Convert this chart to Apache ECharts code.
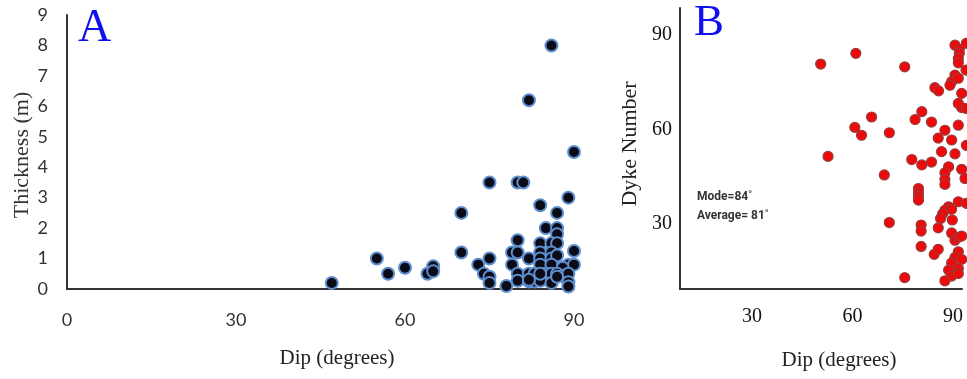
<!DOCTYPE html>
<html>
<head>
<meta charset="utf-8">
<script src="https://cdn.jsdelivr.net/npm/echarts@6/dist/echarts.min.js"></script>
<style>
  html, body { margin: 0; padding: 0; background: #fff; }
  #app { width: 967px; height: 379px; }
</style>
</head>
<body>
<div id="app"></div>
<script>
// panel A: dip (degrees) vs thickness (m)
const thicknessPoints = [
    [47, 0.2], [55, 1.0], [57, 0.5], [60, 0.7], [64, 0.5], [65, 0.75], [65, 0.58],
    [70, 2.5], [70, 1.2], [73, 0.8], [74, 0.5], [75, 3.5], [75, 1.0], [75, 0.4], [75, 0.2],
    [78, 0.1], [79, 1.2], [79, 0.8], [80, 3.5], [81, 3.5], [80, 1.6], [80, 1.2], [80, 0.5],
    [80, 0.27], [82, 6.2], [86, 8.0], [90, 4.5], [89, 3.0], [84, 2.75], [87, 2.5], [85, 2.0],
    [87, 2.0], [87, 1.8], [84, 1.5], [86, 1.5], [87, 1.5], [84, 1.2], [86, 1.2], [90, 1.25],
    [82, 1.0], [84, 1.0], [86, 1.0], [87, 1.1], [84, 0.8], [86, 0.8], [89, 0.8], [90, 0.8],
    [88, 0.7], [82, 0.5], [83, 0.5], [85, 0.5], [86, 0.5], [87, 0.5], [88, 0.43], [89, 0.5],
    [82, 0.25], [83, 0.25], [84, 0.27], [86, 0.2], [89, 0.22], [89, 0.08], [84, 0.5],
    [87, 0.4], [82, 0.3]
];

// panel B: dip (degrees) vs dyke number
const dykePoints = [
    [50.5, 80.8], [61, 84.2], [75.6, 79.9], [65.7, 64], [60.7, 60.7], [62.7, 58.2], [71, 59],
    [52.7, 51.5], [69.5, 45.6], [71, 30.5], [75.6, 13], [77.7, 50.5], [80.7, 65.7], [78.7, 63.2],
    [83.6, 62.4], [84.6, 73.3], [85.7, 72.3], [80.7, 48.8], [83.6, 49.7], [79.7, 41.3],
    [79.7, 40], [79.7, 38.8], [79.7, 37.6], [80.5, 29.7], [80.5, 27.8], [80.5, 22.9],
    [84.4, 20.4], [85.6, 22], [85.6, 28.8], [87.6, 59.8], [85.6, 57.3], [86.6, 53], [88.7, 48.2],
    [87.6, 46.3], [87.6, 44.2], [87.6, 42.6], [88.7, 35.5], [87.6, 34.4], [86.9, 33.2],
    [86.3, 31.8], [89.6, 34.7], [89.8, 31.3], [89.6, 27.2], [90.6, 24.9], [91.6, 25.8],
    [92.6, 26.2], [91.6, 21.2], [90.6, 19.4], [89.6, 17.7], [92.6, 18.8], [91.6, 15.9],
    [88.7, 15.4], [89.6, 13.5], [87.6, 12], [91.6, 14.3], [91.6, 37.1], [94, 36.6],
    [92.6, 47.4], [93.6, 44.5], [90.6, 52.3], [94, 55], [89.6, 56.7], [91.6, 61.4],
    [92.6, 67], [91.6, 68.3], [94, 66.7], [92.6, 71.5], [90.6, 77.3], [89.6, 75.2],
    [89.1, 74.1], [91.6, 76.3], [93.9, 78.9], [90.6, 86.8], [91.9, 85.5], [91.9, 84.2],
    [91.6, 82.6], [91.6, 81.2], [94, 87.4]
];

const dipTicksB = [30, 60, 90];
const dykeTicksB = [30, 60, 90];
const statsText = ['Mode=84˚', 'Average= 81˚'];

const serif = '"Liberation Serif", "Times New Roman", serif';
const axisLine = { show: true, lineStyle: { color: '#333', width: 2 } };

const myChart = echarts.init(document.getElementById('app'));

const option = {
    animation: false,
    grid: [
        { left: 67, right: 393, top: 15, bottom: 90 },
        { left: 680, right: 5, top: 8, bottom: 90 }
    ],
    xAxis: [{
        gridIndex: 0, type: 'value', min: 0, max: 90, interval: 30,
        axisLine: axisLine, axisTick: { show: false }, splitLine: { show: false },
        axisLabel: { margin: 22, fontSize: 18, fontFamily: 'Lato', color: '#333' }
    }, {
        gridIndex: 1, type: 'value', min: 8.5, max: 92.7,
        axisLine: axisLine, axisTick: { show: false }, splitLine: { show: false },
        axisLabel: { customValues: dipTicksB, margin: 18, fontSize: 20, fontFamily: serif, color: '#111' }
    }],
    yAxis: [{
        gridIndex: 0, type: 'value', min: 0, max: 9, interval: 1,
        axisLine: axisLine, axisTick: { show: false }, splitLine: { show: false },
        axisLabel: { margin: 19, fontSize: 18, fontFamily: 'Lato', color: '#333' }
    }, {
        gridIndex: 1, type: 'value', min: 9.4, max: 98.6,
        axisLine: axisLine, axisTick: { show: false }, splitLine: { show: false },
        axisLabel: { customValues: dykeTicksB, margin: 8, fontSize: 20, fontFamily: serif, color: '#111' }
    }],
    series: [{
        type: 'scatter',
        xAxisIndex: 0, yAxisIndex: 0,
        data: thicknessPoints,
        symbolSize: 12,
        clip: false,
        itemStyle: { color: '#0b0b18', borderColor: '#5d8fcf', borderWidth: 2, opacity: 1 }
    }, {
        type: 'scatter',
        xAxisIndex: 1, yAxisIndex: 1,
        data: dykePoints,
        symbolSize: 10,
        clip: false,
        itemStyle: { color: '#ee0a0a', borderColor: '#9a3b3b', borderWidth: 1.2, opacity: 1 }
    }],
    graphic: [
        { type: 'text', left: 78, top: 6, style: { text: 'A', font: '46px ' + serif, fill: '#1010ee' } },
        { type: 'text', left: 694, top: 1, style: { text: 'B', font: '45px ' + serif, fill: '#1010ee' } },
        { type: 'text', x: 337, y: 358, style: { text: 'Dip (degrees)', font: '21px ' + serif, fill: '#222', align: 'center', verticalAlign: 'middle' } },
        { type: 'text', x: 839, y: 360, style: { text: 'Dip (degrees)', font: '21px ' + serif, fill: '#222', align: 'center', verticalAlign: 'middle' } },
        { type: 'text', x: 22, y: 155, rotation: Math.PI / 2, style: { text: 'Thickness (m)', font: '22px ' + serif, fill: '#333', align: 'center', verticalAlign: 'middle' } },
        { type: 'text', x: 630, y: 144, rotation: Math.PI / 2, style: { text: 'Dyke Number', font: '22px ' + serif, fill: '#222', align: 'center', verticalAlign: 'middle' } },
        { type: 'text', x: 697, y: 197, style: { text: statsText[0], font: 'bold 12px Roboto', fill: '#333', verticalAlign: 'middle' } },
        { type: 'text', x: 697, y: 216, style: { text: statsText[1], font: 'bold 12px Roboto', fill: '#333', verticalAlign: 'middle' } }
    ]
};

myChart.setOption(option);
</script>
</body>
</html>
